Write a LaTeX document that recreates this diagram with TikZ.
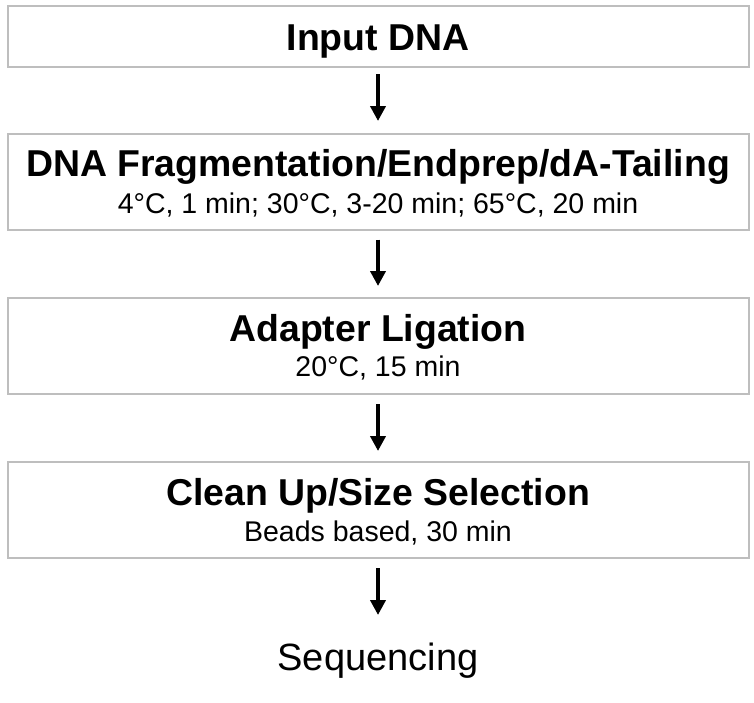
\documentclass[tikz,border=0pt]{standalone}
\usepackage{fontspec}
\setmainfont{Liberation Sans}
\usetikzlibrary{arrows.meta}
\definecolor{boxgray}{HTML}{BEBEBE}
\begin{document}
\begin{tikzpicture}[x=1pt,y=-1pt,
  stepbox/.style={draw=boxgray, line width=2pt, minimum width=741pt, inner sep=0pt, fill=white},
  titletext/.style={anchor=base, inner sep=0pt, font=\fontsize{37.4}{44}\selectfont\bfseries},
  subtext/.style={anchor=base, inner sep=0pt, font=\fontsize{28.5}{34}\selectfont},
  endtext/.style={anchor=base, inner sep=0pt, font=\fontsize{38}{45}\selectfont},
  flowarrow/.style={line width=4.5pt, -{Triangle[width=15pt,length=15pt]}}]
\useasboundingbox (0,0) rectangle (754,702);
\node[stepbox, minimum height=61pt] (b1) at (378,36) {};
\node[titletext] (t1) at (378,50) {Input DNA};
\node[stepbox, minimum height=96pt] (b2) at (378,181.5) {};
\node[titletext] (t2) at (378,176.7) {DNA Fragmentation/Endprep/dA-Tailing};
\node[subtext] (s2) at (378,213) {4°C, 1 min; 30°C, 3-20 min; 65°C, 20 min};
\node[stepbox, minimum height=96pt] (b3) at (378,346) {};
\node[titletext] (t3) at (378,341) {Adapter Ligation};
\node[subtext] (s3) at (378,376.5) {20°C, 15 min};
\node[stepbox, minimum height=95.5pt] (b4) at (378,509.75) {};
\node[titletext] (t4) at (378,505.5) {Clean Up/Size Selection};
\node[subtext] (s4) at (378,541) {Beads based, 30 min};
\node[endtext] (t5) at (378,670) {Sequencing};
\coordinate (e4) at (378,615);
\draw[flowarrow] ([yshift=-6.5pt]b1.south) -- ([yshift=11.5pt]b2.north);
\draw[flowarrow] ([yshift=-9pt]b2.south) -- ([yshift=11pt]b3.north);
\draw[flowarrow] ([yshift=-9pt]b3.south) -- ([yshift=10pt]b4.north);
\draw[flowarrow] ([yshift=-9.5pt]b4.south) -- (e4);
\end{tikzpicture}
\end{document}
